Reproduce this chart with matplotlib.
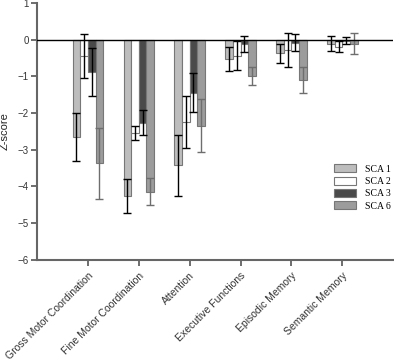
import numpy as np
import matplotlib
matplotlib.use("Agg")
import matplotlib.pyplot as plt

plt.rcParams['font.family'] = ['Liberation Sans', 'DejaVu Sans']

categories = ["Gross Motor Coordination", "Fine Motor Coordination", "Attention",
              "Executive Functions", "Episodic Memory", "Semantic Memory"]
series = ["SCA 1", "SCA 2", "SCA 3", "SCA 6"]

sca1 = [-2.65, -4.26, -3.43, -0.52, -0.38, -0.11]
sca1_err = [0.65, 0.47, 0.84, 0.33, 0.26, 0.20]
sca2 = [-0.46, -2.55, -2.26, -0.44, -0.29, -0.20]
sca2_err = [0.60, 0.20, 0.71, 0.40, 0.46, 0.15]
sca3 = [-0.88, -2.27, -1.45, -0.11, -0.09, -0.03]
sca3_err = [0.66, 0.34, 0.53, 0.22, 0.23, 0.10]
sca6 = [-3.38, -4.15, -2.35, -1.00, -1.11, -0.11]
sca6_err = [0.96, 0.37, 0.72, 0.25, 0.36, 0.29]

values = [sca1, sca2, sca3, sca6]
errors = [sca1_err, sca2_err, sca3_err, sca6_err]
colors = ['#bdbdbd', '#ffffff', '#4a4a4a', '#9c9c9c']
ecolors = ['black', 'black', 'black', '#6e6e6e']

fig = plt.figure(figsize=(3.94, 3.63), dpi=100)
ax = fig.add_axes([0.094, 0.285, 0.904, 0.707])

x = np.arange(len(categories))
width = 0.15
offsets = [-1.5, -0.5, 0.5, 1.5]
for i in range(4):
    pos = x + offsets[i] * width
    ax.bar(pos, values[i], width, color=colors[i], edgecolor='#777777',
           linewidth=0.8, label=series[i], zorder=2)
    ax.errorbar(pos, values[i], yerr=errors[i], fmt='none', ecolor=ecolors[i],
                elinewidth=1.0, capsize=3, capthick=1.0, zorder=3)

ax.axhline(0, color='black', linewidth=1.0, zorder=4)

ax.set_xlim(-1, 6)
ax.set_ylim(-6, 1)
ax.set_yticks(range(-6, 2))
ax.set_xticks(x)
ax.set_xticklabels(categories, rotation=45, ha='right', rotation_mode='anchor',
                   fontsize=7.5, color='#333333')
ax.tick_params(axis='y', labelsize=7, colors='#555555', labelcolor='#333333',
               direction='out', length=4, width=1.2, pad=2)
ax.tick_params(axis='x', direction='out', length=4, width=1.2, colors='#555555',
               labelcolor='#333333', pad=4)
ax.set_ylabel("Z-score", fontsize=8, color='#222222')
ax.yaxis.set_label_coords(-0.078, 0.5)

for s in ['top', 'right']:
    ax.spines[s].set_visible(False)
for s in ['left', 'bottom']:
    ax.spines[s].set_color('#666666')
    ax.spines[s].set_linewidth(1.5)

ax.legend(loc='upper left', bbox_to_anchor=(0.81, 0.405), frameon=False,
          prop={'family': 'Liberation Serif', 'size': 7},
          handlelength=2.2, handleheight=0.9, labelspacing=0.3, handletextpad=1.0)

fig.savefig("out.png", dpi=100)
